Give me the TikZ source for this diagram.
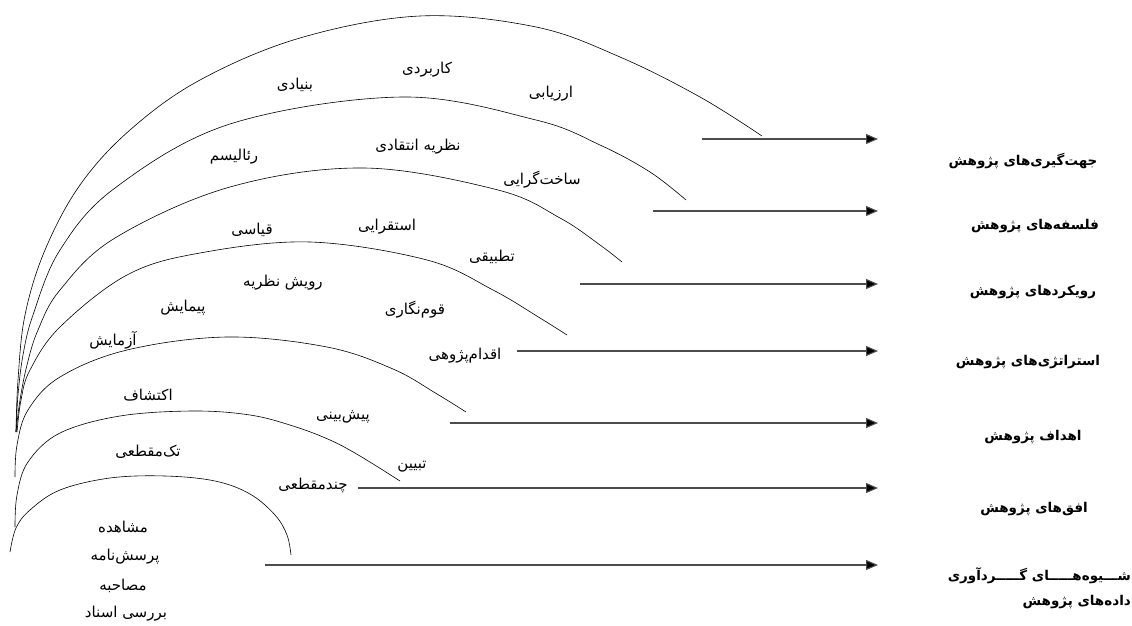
\documentclass[tikz,border=0pt]{standalone}
\usepackage{fontspec}
\usetikzlibrary{arrows.meta}
\TeXXeTstate=1
\newfontfamily\fa[Script=Arabic]{DejaVu Sans}
\tikzset{
  arch/.style={line width=0.6pt, draw=black},
  arr/.style={line width=1.1pt, draw=black!70, -{Triangle[length=12pt,width=10pt,fill=black]}},
  lbl/.style={font=\fa\fontsize{15}{17}\selectfont, inner sep=0pt},
  cat/.style={font=\fa\bfseries\fontsize{13.5}{25}\selectfont, inner sep=0pt},
}
\begin{document}
\begin{tikzpicture}[x=1pt,y=-1pt]
\useasboundingbox (0,0) rectangle (1132,626);
\fill[white] (0,0) rectangle (1132,626);

% arches
\draw[arch] plot[smooth, tension=0.6] coordinates {(16,432) (18,380) (25,315) (45,250) (80,185) (130,130) (200,80) (300,38) (420,16) (536,27) (620,57) (700,97) (762,136)};
\draw[arch] plot[smooth, tension=0.6] coordinates {(16,432) (18,395) (23,355) (33,315) (60,250) (115,188) (230,124) (402,97) (536,120) (600,145) (650,172) (686,200)};
\draw[arch] plot[smooth, tension=0.6] coordinates {(16,432) (20,400) (27,365) (38,330) (60,290) (115,238) (230,187) (364,168) (498,190) (560,218) (600,245) (622,262)};
\draw[arch] plot[smooth, tension=0.6] coordinates {(17,432) (21,400) (30,370) (60,327) (127,275) (200,253) (310,242) (427,260) (493,290) (540,318) (567,335)};
\draw[arch] plot[smooth, tension=0.6] coordinates {(15,477) (17,445) (28,410) (60,377) (127,350) (227,337) (327,347) (393,369) (437,394) (466,412)};
\draw[arch] plot[smooth, tension=0.6] coordinates {(15,527) (17,495) (28,462) (60,433) (120,416) (193,411) (250,415) (293,426) (330,440) (360,456) (400,481)};
\draw[arch] plot[smooth, tension=0.6] coordinates {(10,552) (16,528) (30,510) (60,490) (110,478) (165,476) (215,481) (250,494) (275,515) (287,535) (291,555)};

% arrows
\coordinate (s1) at (702,139); \coordinate (e1) at (878,139);
\coordinate (s2) at (653,211); \coordinate (e2) at (878,211);
\coordinate (s3) at (580,284); \coordinate (e3) at (878,284);
\coordinate (s4) at (517,351); \coordinate (e4) at (878,351);
\coordinate (s5) at (450,423); \coordinate (e5) at (878,423);
\coordinate (s6) at (358,488); \coordinate (e6) at (878,488);
\coordinate (s7) at (265,565); \coordinate (e7) at (878,565);
\foreach \i in {1,...,7} {\draw[arr] (s\i) -- (e\i);}

% right category labels
\node[cat] (c1) at (1023,161) {\beginR جهت‌گیری‌های پژوهش\endR};
\node[cat] (c2) at (1035,226) {\beginR فلسفه‌های پژوهش\endR};
\node[cat] (c3) at (1033,292) {\beginR رویکردهای پژوهش\endR};
\node[cat] (c4) at (1028,362) {\beginR استراتژی‌های پژوهش\endR};
\node[cat] (c5) at (1033,437) {\beginR اهداف پژوهش\endR};
\node[cat] (c6) at (1034,509) {\beginR افق‌های پژوهش\endR};
\node[cat, align=right, anchor=east] (c7) at (1131,588) {\beginR شـــیوه‌هـــــای گـــــردآوری\endR\\ \beginR داده‌های پژوهش\endR};

% inner labels
\node[lbl] (kar) at (427,70) {\beginR کاربردی\endR};
\node[lbl] (bon) at (295,85) {\beginR بنیادی\endR};
\node[lbl] (arz) at (551,94) {\beginR ارزیابی\endR};
\node[lbl] (naz) at (418,147) {\beginR نظریه انتقادی\endR};
\node[lbl] (rea) at (234,157) {\beginR رئالیسم\endR};
\node[lbl] (sak) at (542,180) {\beginR ساخت‌گرایی\endR};
\node[lbl] (qiy) at (252,230) {\beginR قیاسی\endR};
\node[lbl] (est) at (387,227) {\beginR استقرایی\endR};
\node[lbl] (tat) at (492,257) {\beginR تطبیقی\endR};
\node[lbl] (ruy) at (283,283) {\beginR رویش نظریه\endR};
\node[lbl] (pey) at (183,308) {\beginR پیمایش\endR};
\node[lbl] (qom) at (415,310) {\beginR قوم‌نگاری\endR};
\node[lbl] (azm) at (113,340) {\beginR آزمایش\endR};
\node[lbl] (eqd) at (465,356) {\beginR اقدام‌پژوهی\endR};
\node[lbl] (ekt) at (148,395) {\beginR اکتشاف\endR};
\node[lbl] (pis) at (343,417) {\beginR پیش‌بینی\endR};
\node[lbl] (tak) at (148,452) {\beginR تک‌مقطعی\endR};
\node[lbl] (tab) at (412,467) {\beginR تبیین\endR};
\node[lbl] (cha) at (313,485) {\beginR چندمقطعی\endR};
\node[lbl] (mos) at (123,527) {\beginR مشاهده\endR};
\node[lbl] (por) at (125,557) {\beginR پرسش‌نامه\endR};
\node[lbl] (mas) at (123,586) {\beginR مصاحبه\endR};
\node[lbl] (bar) at (126,614) {\beginR بررسی اسناد\endR};
\end{tikzpicture}
\end{document}
